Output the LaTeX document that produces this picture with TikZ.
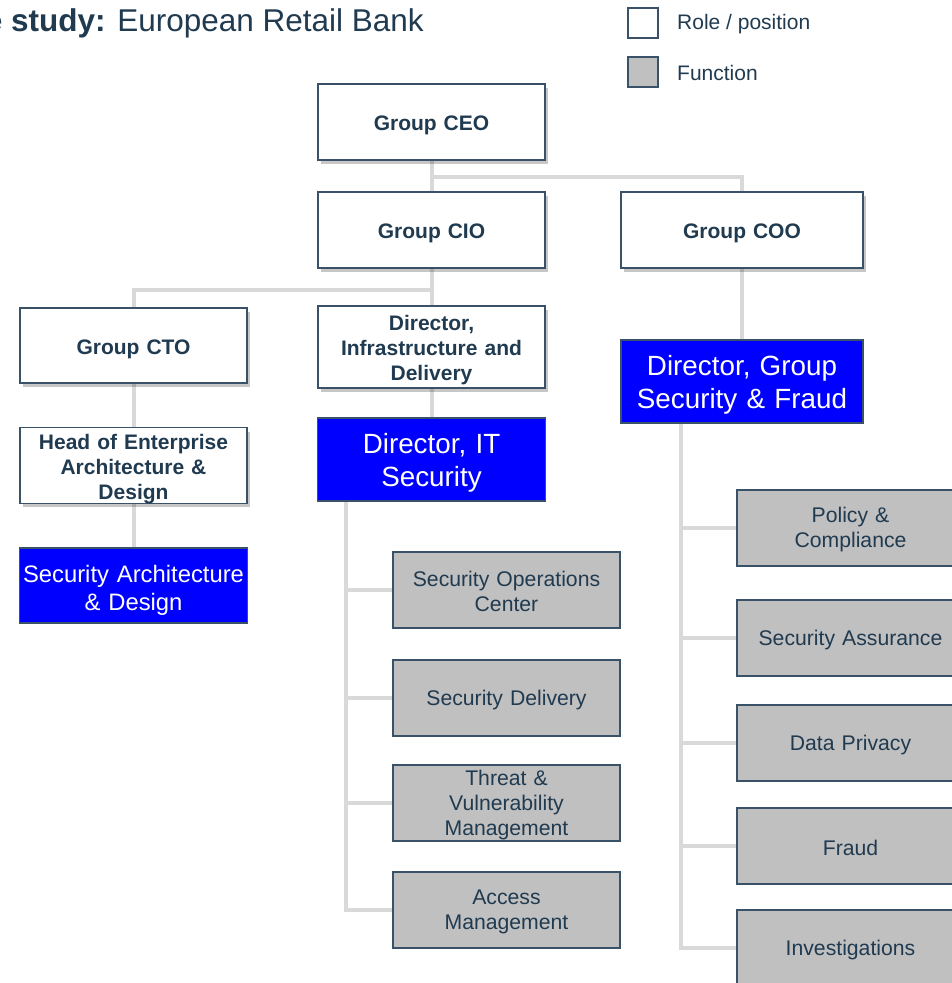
\documentclass[tikz,border=0pt]{standalone}
\usepackage{fontspec}
\setmainfont{Liberation Sans}
\usetikzlibrary{shadows}
\definecolor{txt}{HTML}{203A50}
\definecolor{edge}{HTML}{3A5268}
\definecolor{conncol}{HTML}{D9D9D9}
\definecolor{funcgray}{HTML}{C0C0C0}
\definecolor{bluebox}{HTML}{0000FF}
\pgfdeclarelayer{bg}
\pgfsetlayers{bg,main}
\tikzset{
  base/.style={draw=edge, line width=1.2pt, align=center, inner xsep=2pt, inner ysep=0pt, text=txt},
  role/.style={base, fill=white, minimum width=227pt, minimum height=76pt, text width=222pt,
    font=\fontsize{21}{25}\selectfont\bfseries,
    execute at begin node={\rule{0pt}{21.5pt}},
    drop shadow={shadow xshift=3pt, shadow yshift=-4pt, fill=black, opacity=0.22}},
  hilite/.style={base, fill=bluebox, text=white, minimum width=227pt, minimum height=83pt, text width=224pt,
    execute at begin node={\rule{0pt}{26pt}},
    font=\fontsize{27.8}{33}\selectfont},
  func/.style={base, fill=funcgray, minimum width=227pt, minimum height=76pt, text width=222pt,
    execute at begin node={\rule{0pt}{19pt}},
    font=\fontsize{21.2}{25}\selectfont},
  conn/.style={draw=conncol, line width=4pt},
  legbox/.style={draw=edge, line width=1.2pt, minimum width=30pt, minimum height=30pt, inner sep=0pt},
  legtext/.style={anchor=west, text=txt, font=\fontsize{21}{25}\selectfont, inner sep=0pt}
}
\begin{document}
\begin{tikzpicture}[x=1pt,y=-1pt]
\useasboundingbox (0,0) rectangle (952,983);
\clip (0,0) rectangle (952,983);
% title
\node[anchor=base east, inner sep=0pt, text=txt, font=\fontsize{31.5}{36}\selectfont] (title) at (424,31.5) {\textbf{Case study:} European Retail Bank};
% legend
\node[legbox, fill=white] (lrole) at (643,23) {};
\node[legtext] (lroletxt) at (677,24) {Role / position};
\node[legbox, fill=funcgray] (lfunc) at (643,72) {};
\node[legtext] (lfunctxt) at (677,73) {Function};
% roles
\node[role] (ceo) at (431.5,122) {Group CEO};
\node[role] (cio) at (431.5,230) {Group CIO};
\node[role, minimum width=242pt] (coo) at (742,230) {Group COO};
\node[role, minimum height=75pt] (cto) at (133.5,345.5) {Group CTO};
\node[role, minimum height=82pt] (infra) at (431.5,347) {Director,\\Infrastructure and\\Delivery};
\node[role, minimum height=75pt] (head) at (133.5,465.5) {Head of Enterprise\\Architecture \&\\Design};
% highlighted
\node[hilite] (itsec) at (431.5,459.5) {Director, IT\\Security};
\node[hilite, minimum width=242pt, text width=238pt] (gsf) at (742,381.5) {Director, Group\\Security \& Fraud};
\node[hilite, minimum height=75pt, font=\fontsize{23.8}{28}\selectfont] (secarch) at (133.5,585.5) {Security Architecture\\\& Design};
% functions
\node[func] (soc) at (506.5,590) {Security Operations\\Center};
\node[func] (sdel) at (506.5,698) {Security Delivery};
\node[func] (tvm) at (506.5,803) {Threat \&\\Vulnerability\\Management};
\node[func] (acc) at (506.5,910) {Access\\Management};
\node[func] (pol) at (850.5,528) {Policy \&\\Compliance};
\node[func] (sa) at (850.5,638) {Security Assurance};
\node[func] (dp) at (850.5,743) {Data Privacy};
\node[func] (fraud) at (850.5,846) {Fraud};
\node[func] (inv) at (850.5,948) {Investigations};
% connectors
\coordinate (j1) at (431.5,177);
\coordinate (j2) at (431.5,290);
\coordinate (t1) at (346,501);
\coordinate (t2) at (681,423);
\begin{pgfonlayer}{bg}
\draw[conn] (ceo.south) -- (cio.north);
\draw[conn] (j1) -| (coo.north);
\draw[conn] (cio.south) -- (infra.north);
\draw[conn] (j2) -| (cto.north);
\draw[conn] (cto.south) -- (head.north);
\draw[conn] (head.south) -- (secarch.north);
\draw[conn] (infra.south) -- (itsec.north);
\draw[conn] (coo.south) -- (gsf.north);
\draw[conn] (t1) |- (acc.west);
\draw[conn] (soc.west -| t1) -- (soc.west);
\draw[conn] (sdel.west -| t1) -- (sdel.west);
\draw[conn] (tvm.west -| t1) -- (tvm.west);
\draw[conn] (t2) |- (inv.west);
\draw[conn] (pol.west -| t2) -- (pol.west);
\draw[conn] (sa.west -| t2) -- (sa.west);
\draw[conn] (dp.west -| t2) -- (dp.west);
\draw[conn] (fraud.west -| t2) -- (fraud.west);
\end{pgfonlayer}
\end{tikzpicture}
\end{document}
